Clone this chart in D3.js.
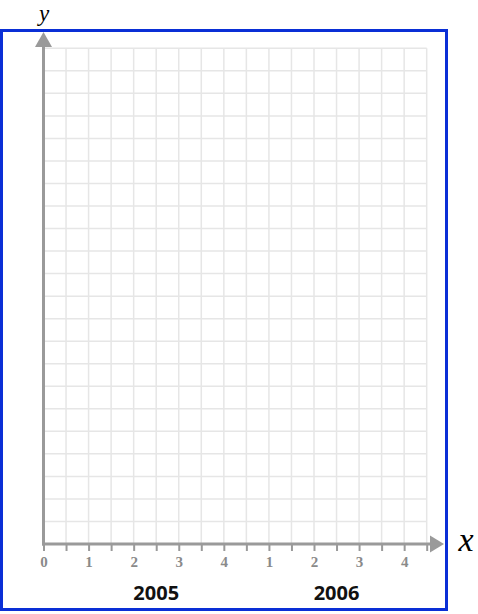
<!DOCTYPE html>
<html>
<head>
<meta charset="utf-8">
<script src="https://cdn.jsdelivr.net/npm/d3@7"></script>
<style>
  html, body { margin: 0; padding: 0; background: #fff; }
  svg { display: block; }
</style>
</head>
<body>
<svg id="chart" width="478" height="614"></svg>
<script>
// quarters along the x axis (two years, four quarters each)
const quarterTicks = [0, 1, 2, 3, 4, 5, 6, 7, 8];
const quarterLabels = ["0", "1", "2", "3", "4", "1", "2", "3", "4"];
const years = ["2005", "2006"];
const yearMid = [2.5, 6.5];   // middle of each year, in quarters
const xMax = 8.5;             // last grid column
const yMax = 22;              // grid rows (no values plotted)

const svg = d3.select("#chart");
const GRAY = "#9a9a9a";

const x = d3.scaleLinear().domain([0, xMax]).range([43.5, 426.7]);
const y = d3.scaleLinear().domain([0, yMax]).range([544, 48.3]);

// grid
const grid = svg.append("g").attr("stroke", "#e6e6e6").attr("stroke-width", 1.5);
grid.selectAll("line.v")
  .data(d3.range(0, xMax + 0.01, 0.5))
  .enter().append("line")
  .attr("x1", d => x(d)).attr("x2", d => x(d))
  .attr("y1", y(yMax)).attr("y2", y(0));
grid.selectAll("line.h")
  .data(d3.range(0, yMax + 0.01, 1))
  .enter().append("line")
  .attr("x1", x(0)).attr("x2", x(xMax))
  .attr("y1", d => y(d)).attr("y2", d => y(d));

// frame
svg.append("rect")
  .attr("x", 1.5).attr("y", 30.5)
  .attr("width", 445).attr("height", 579)
  .attr("fill", "none")
  .attr("stroke", "#0a2fd6")
  .attr("stroke-width", 3);

// x axis ticks + labels
const xAxis = d3.axisBottom(x)
  .tickValues(d3.range(0, xMax + 0.01, 0.5))
  .tickSize(7)
  .tickSizeOuter(0)
  .tickPadding(5)
  .tickFormat(d => Number.isInteger(d) ? quarterLabels[quarterTicks.indexOf(d)] : "");

const gx = svg.append("g")
  .attr("transform", "translate(0," + y(0) + ")")
  .call(xAxis);
gx.select(".domain").remove();
gx.selectAll(".tick line").attr("stroke", GRAY).attr("stroke-width", 2);
gx.selectAll(".tick text")
  .attr("fill", "#8a8a8a")
  .attr("font-family", "'Liberation Serif', 'DejaVu Serif', serif")
  .attr("font-weight", "bold")
  .attr("font-size", 15);

// axis lines with arrow heads
svg.append("line")
  .attr("x1", x(0) - 1.5).attr("x2", 431)
  .attr("y1", y(0)).attr("y2", y(0))
  .attr("stroke", GRAY).attr("stroke-width", 3);
svg.append("path")
  .attr("d", "M430," + (y(0) - 8.5) + "L444," + y(0) + "L430," + (y(0) + 8.5) + "Z")
  .attr("fill", GRAY);

svg.append("line")
  .attr("x1", x(0)).attr("x2", x(0))
  .attr("y1", y(0) + 1.5).attr("y2", 46)
  .attr("stroke", GRAY).attr("stroke-width", 3);
svg.append("path")
  .attr("d", "M" + (x(0) - 8.5) + ",47L" + x(0) + ",32L" + (x(0) + 8.5) + ",47Z")
  .attr("fill", GRAY);

// axis names
svg.append("text")
  .attr("x", 466).attr("y", 551)
  .attr("text-anchor", "middle")
  .attr("font-family", "'Liberation Serif', serif")
  .attr("font-style", "italic")
  .attr("font-size", 34)
  .text("x");
svg.append("text")
  .attr("x", 44).attr("y", 20.5)
  .attr("text-anchor", "middle")
  .attr("font-family", "'Liberation Serif', serif")
  .attr("font-style", "italic")
  .attr("font-size", 23)
  .text("y");

// year labels
svg.selectAll("text.year")
  .data(years)
  .enter().append("text")
  .attr("class", "year")
  .attr("x", (d, i) => x(yearMid[i]))
  .attr("y", 600)
  .attr("text-anchor", "middle")
  .attr("font-family", "'Open Sans', sans-serif")
  .attr("font-weight", "bold")
  .attr("font-size", 20)
  .attr("fill", "#111")
  .text(d => d);
</script>
</body>
</html>
